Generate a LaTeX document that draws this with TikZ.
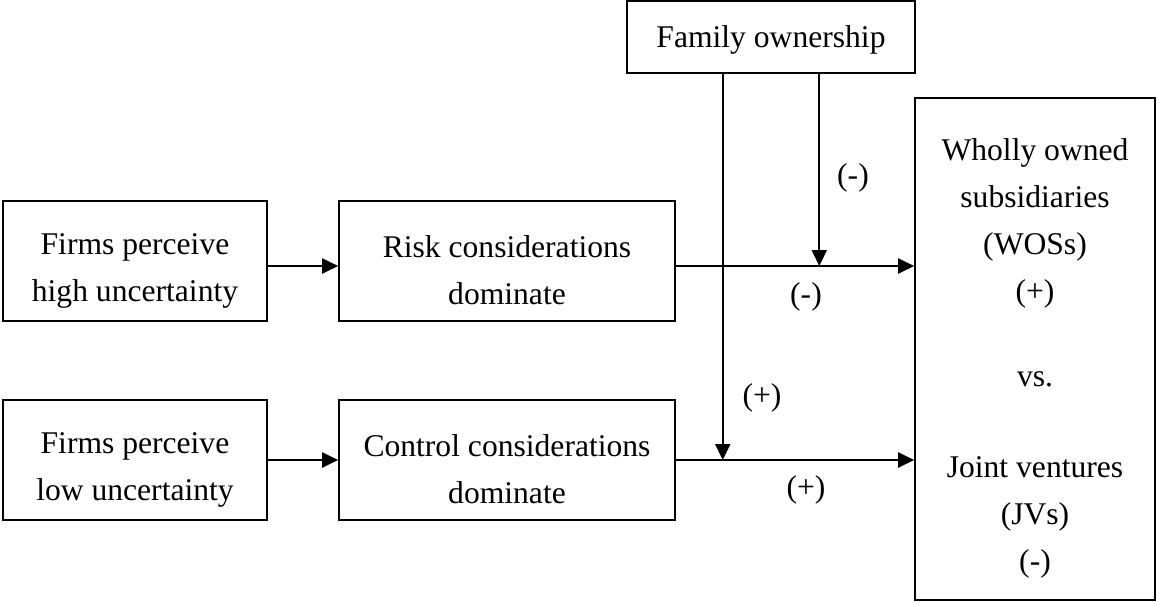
\documentclass[tikz,border=0pt]{standalone}
\usepackage{fontspec}
\setmainfont{Liberation Serif}
\usetikzlibrary{arrows.meta,calc,positioning}

\newcommand{\lift}{\rule{0pt}{20pt}}

\tikzset{
    box/.style={draw,line width=0.8pt,align=center,inner sep=0pt},
    link/.style={line width=1pt,-{Triangle[length=8pt,width=7.5pt]}},
    sign/.style={inner sep=1pt}
}

\begin{document}
\begin{tikzpicture}[x=0.5pt,y=-0.5pt,font=\fontsize{15.8}{23.5}\selectfont]

    \useasboundingbox (0,0) rectangle (1156,602);

    % left column
    \node[box,minimum width=132pt,minimum height=60pt] (high) at (135,261)
        {\lift Firms perceive\\high uncertainty};
    \node[box,minimum width=132pt,minimum height=60pt] (low) at (135,460)
        {\lift Firms perceive\\low uncertainty};

    % middle column
    \node[box,minimum width=168pt,minimum height=60pt] (risk) at (507,261)
        {\lift Risk considerations\\dominate};
    \node[box,minimum width=168pt,minimum height=60pt] (control) at (507,460)
        {\lift Control considerations\\dominate};

    % moderator and outcome
    \node[box,minimum width=144pt,minimum height=36pt] (family) at (771,37)
        {\rule{0pt}{14pt}Family ownership};
    \node[box,minimum width=120pt,minimum height=251pt] (mode) at (1035,349)
        {\lift Wholly owned\\subsidiaries\\(WOSs)\\(+)\\[19pt]vs.\\[22pt]Joint ventures\\(JVs)\\(-)};

    \coordinate (highout) at ([yshift=-2.5pt]high.east);
    \coordinate (riskout) at ([yshift=-2.5pt]risk.east);

    \draw[link] (highout) -- (highout -| risk.west);
    \draw[link] (low) -- (control);

    \draw[link] (riskout) -- (riskout -| mode.west);
    \draw[link] (control.east) -- (control.east -| mode.west);

    \coordinate (famA) at ($(family.south west)!1/3!(family.south east)$);
    \coordinate (famB) at ($(family.south west)!2/3!(family.south east)$);

    \draw[link] (famA) -- (famA |- control.east);
    \draw[link] (famB) -- (famB |- riskout);

    \node[sign] (signB) at (853,178) {(-)};
    \node[sign] (signR) at (806,297) {(-)};
    \node[sign] (signA) at (762,398) {(+)};
    \node[sign] (signC) at (806,490) {(+)};

\end{tikzpicture}
\end{document}
